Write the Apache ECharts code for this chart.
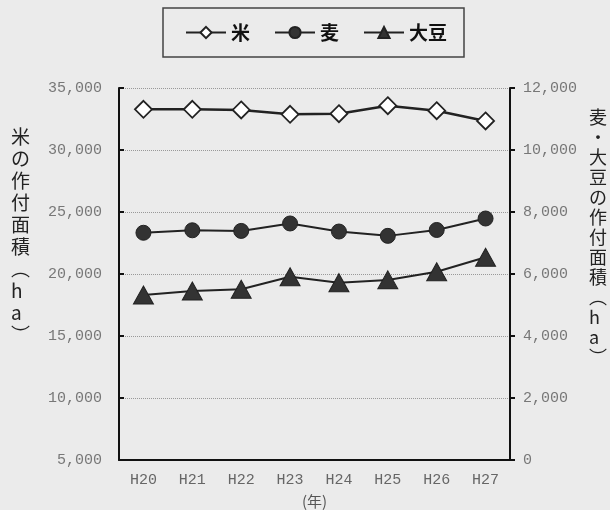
<!DOCTYPE html>
<html><head><meta charset="utf-8">
<script src="https://cdn.jsdelivr.net/npm/echarts@6/dist/echarts.min.js"></script>
<style>html,body{margin:0;padding:0;background:#ebebeb}#c{width:610px;height:510px}</style>
</head><body><div id="c"></div>
<script>
var categories = ['H20','H21','H22','H23','H24','H25','H26','H27'];
var rice = [33280, 33280, 33230, 32880, 32930, 33570, 33170, 32340];
var wheat = [7330, 7410, 7390, 7630, 7370, 7230, 7420, 7790];
var soybean = [5320, 5450, 5510, 5910, 5720, 5810, 6070, 6540];
var leftTicks = [5000, 35000, 5000];
var rightTicks = [0, 12000, 2000];
var leftName = '米の作付面積（ha）';
var rightName = '麦・大豆の作付面積（ha）';
var seriesNames = ['米', '麦', '大豆'];
var xName = '(年)';

function vert(s){
  return s.replace('（','︵').replace('）','︶').split('').join('\n');
}
var fmt = function(v){ return v.toLocaleString('en-US'); };
var mono = '"Liberation Mono", "DejaVu Sans Mono", monospace';
var cjk = '"Noto Sans CJK JP", sans-serif';
var chart = echarts.init(document.getElementById('c'));
chart.setOption({
  backgroundColor: '#ebebeb',
  animation: false,
  grid: {left: 119, right: 100, top: 88, bottom: 50, containLabel: false, outerBoundsMode: 'none'},
  legend: {
    data: seriesNames, left: 163, top: 8,
    padding: [15, 17, 15, 22], itemGap: 24, itemWidth: 40, itemHeight: 14,
    borderColor: '#444', borderWidth: 1.5,
    textStyle: {fontFamily: cjk, fontSize: 19, color: '#111', fontWeight: 'bold'}
  },
  graphic: [{
    type: 'text', left: 11, top: 126,
    style: {text: vert(leftName), font: '19px ' + cjk, fill: '#222', lineHeight: 22, align: 'center'}
  }, {
    type: 'text', left: 589, top: 107,
    style: {text: vert(rightName), font: '18px ' + cjk, fill: '#222', lineHeight: 20, align: 'center'}
  }],
  xAxis: {
    type: 'category', data: categories, boundaryGap: true,
    name: xName, nameLocation: 'middle', nameGap: 34,
    nameTextStyle: {fontFamily: cjk, fontSize: 15, color: '#555'},
    axisLine: {lineStyle: {color: '#111', width: 2}},
    axisTick: {inside: true, length: 5, lineStyle: {color: '#111', width: 2}},
    axisLabel: {fontFamily: mono, fontSize: 15, color: '#666', margin: 13}
  },
  yAxis: [{
    type: 'value', min: leftTicks[0], max: leftTicks[1], interval: leftTicks[2],
    axisLine: {show: true, lineStyle: {color: '#111', width: 2}},
    axisTick: {show: true, inside: true, length: 5, lineStyle: {color: '#111', width: 2}},
    axisLabel: {fontFamily: mono, fontSize: 15, color: '#777', margin: 17, formatter: fmt},
    splitLine: {show: true, lineStyle: {color: '#999', type: 'dotted', width: 1}}
  }, {
    type: 'value', min: rightTicks[0], max: rightTicks[1], interval: rightTicks[2],
    position: 'right',
    axisLine: {show: true, lineStyle: {color: '#111', width: 2}},
    axisTick: {show: true, inside: false, length: 5, lineStyle: {color: '#111', width: 2}},
    axisLabel: {fontFamily: mono, fontSize: 15, color: '#777', margin: 13, formatter: fmt},
    splitLine: {show: false}
  }],
  series: [{
    name: seriesNames[0], type: 'line', yAxisIndex: 0, data: rice,
    symbol: 'diamond', symbolSize: 17,
    lineStyle: {color: '#222', width: 2.5},
    itemStyle: {color: '#fff', borderColor: '#222', borderWidth: 1.8}
  }, {
    name: seriesNames[1], type: 'line', yAxisIndex: 1, data: wheat,
    symbol: 'circle', symbolSize: 15,
    lineStyle: {color: '#222', width: 2},
    itemStyle: {color: '#333', borderColor: '#222', borderWidth: 1}
  }, {
    name: seriesNames[2], type: 'line', yAxisIndex: 1, data: soybean,
    symbol: 'triangle', symbolSize: [20, 18],
    lineStyle: {color: '#222', width: 2},
    itemStyle: {color: '#333', borderColor: '#222', borderWidth: 1}
  }]
});
</script></body></html>
